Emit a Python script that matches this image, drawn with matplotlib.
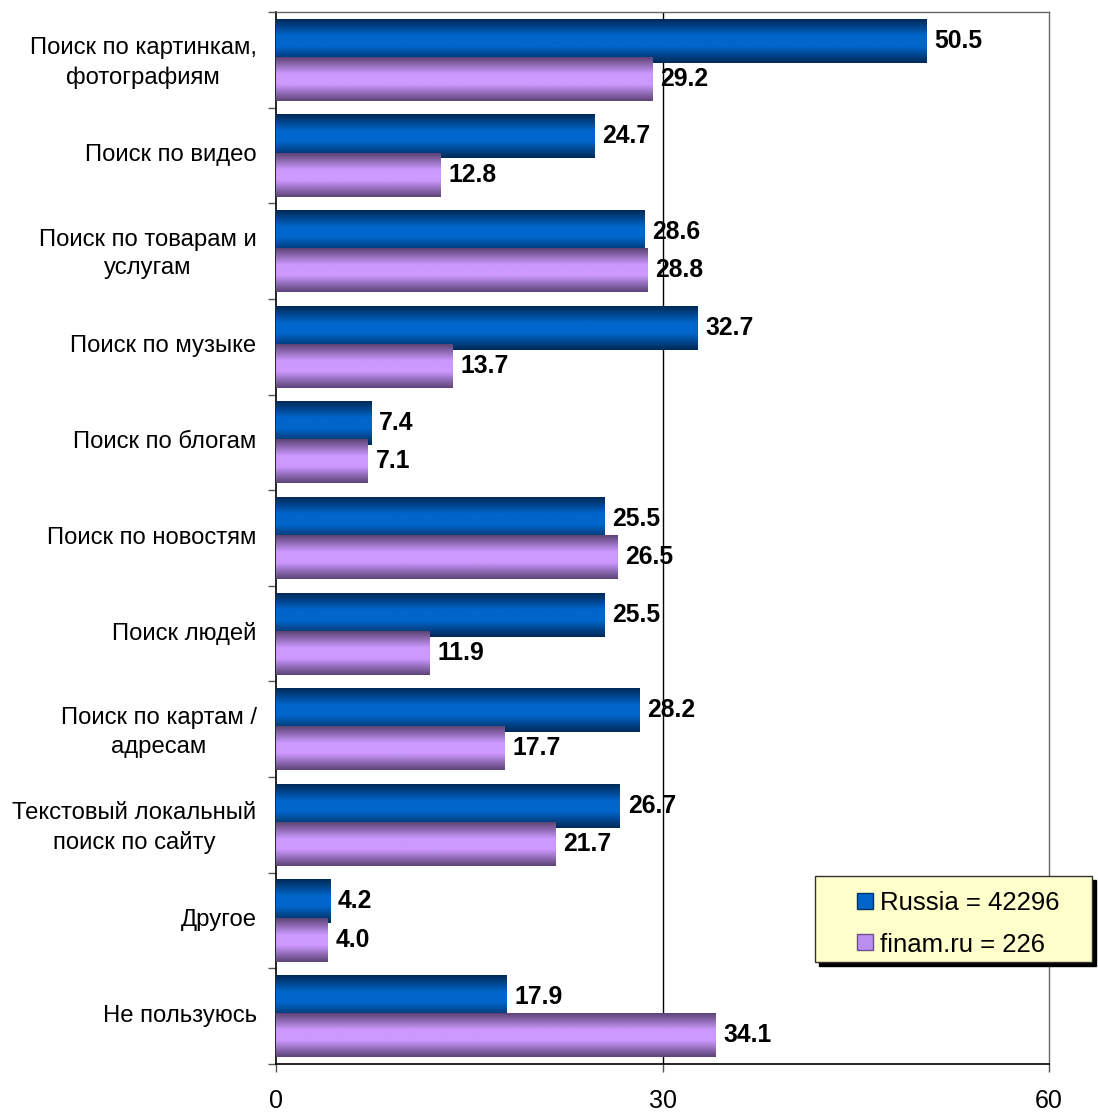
import numpy as np
import matplotlib
matplotlib.use("Agg")
import matplotlib.pyplot as plt
import matplotlib.transforms as mtransforms
from matplotlib.colors import LinearSegmentedColormap
from matplotlib.patches import Rectangle

plt.rcParams['font.family'] = ['Liberation Sans', 'DejaVu Sans']

categories = ["Поиск по картинкам,\nфотографиям", "Поиск по видео",
              "Поиск по товарам и\nуслугам", "Поиск по музыке",
              "Поиск по блогам", "Поиск по новостям", "Поиск людей",
              "Поиск по картам /\nадресам", "Текстовый локальный\nпоиск по сайту",
              "Другое", "Не пользуюсь"]
russia = [50.5, 24.7, 28.6, 32.7, 7.4, 25.5, 25.5, 28.2, 26.7, 4.2, 17.9]
finam = [29.2, 12.8, 28.8, 13.7, 7.1, 26.5, 11.9, 17.7, 21.7, 4.0, 34.1]
series_labels = ["Russia = 42296", "finam.ru = 226"]
xticks = [0, 30, 60]

W, H = 1098, 1113
fig = plt.figure(figsize=(W / 100, H / 100), dpi=100)
ax = fig.add_axes([276 / W, 1 - 1064 / H, (1049 - 276) / W, (1064 - 12) / H])

blue_cmap = LinearSegmentedColormap.from_list(
    "b", [(0, "#002a58"), (0.38, "#0066cc"), (0.62, "#0066cc"), (1, "#002a58")])
purple_cmap = LinearSegmentedColormap.from_list(
    "p", [(0, "#5e4578"), (0.38, "#cc99ff"), (0.62, "#cc99ff"), (1, "#5e4578")])
grad = np.linspace(0, 1, 64).reshape(-1, 1)

n = len(categories)
ypos = np.arange(n)
h = 0.46
off = 0.2
label_offset = mtransforms.ScaledTranslation(8 / 100, 0, fig.dpi_scale_trans)

def draw(vals, shift, cmap, z):
    for y, v in zip(ypos, vals):
        yc = y + shift
        ax.imshow(grad, cmap=cmap, aspect='auto', interpolation='bilinear',
                  extent=[0, v, yc + h / 2, yc - h / 2], zorder=z)
        ax.text(v, yc, f"{v:.1f}", transform=ax.transData + label_offset,
                va='center', ha='left', fontsize=17.8, fontweight='bold', zorder=6)

draw(russia, -off, blue_cmap, 3)
draw(finam, off, purple_cmap, 4)

ax.set_xlim(0, 60)
ax.set_ylim(n - 0.5, -0.5)

ax.axvline(30, color='black', lw=1, zorder=2)

ax.set_xticks(xticks)
ax.set_xticklabels([str(x) for x in xticks], fontsize=18)
ax.tick_params(axis='x', direction='out', length=6, width=1, pad=12, color='#555555')

ax.set_yticks(np.arange(-0.5, n, 1))
ax.set_yticklabels([])
ax.tick_params(axis='y', which='major', direction='out', length=6, width=1, color='#555555')
ax.set_yticks(ypos, minor=True)
ax.set_yticklabels(categories, minor=True, fontsize=17.2, multialignment='center',
                   linespacing=1.4)
ax.tick_params(axis='y', which='minor', length=0, pad=14)
for t in ax.get_yticklabels(minor=True):
    t.set_transform(t.get_transform() + mtransforms.ScaledTranslation(0, 3 / 100, fig.dpi_scale_trans))

for s in ['top', 'right']:
    ax.spines[s].set_color('#666666')
    ax.spines[s].set_linewidth(1)
for s in ['left', 'bottom']:
    ax.spines[s].set_color('black')
    ax.spines[s].set_linewidth(1.2)

# legend drawn in figure pixel space
def px(x, y):
    return x / W, 1 - y / H

lx0, ly0, lx1, ly1 = 815, 876, 1092, 962
sh = 4
fig.patches.append(Rectangle(px(lx0 + sh, ly1 + sh), (lx1 - lx0) / W, (ly1 - ly0) / H,
                             transform=fig.transFigure, facecolor='black',
                             edgecolor='black', zorder=9))
fig.patches.append(Rectangle(px(lx0, ly1), (lx1 - lx0) / W, (ly1 - ly0) / H,
                             transform=fig.transFigure, facecolor='#ffffcc',
                             edgecolor='#333333', lw=1, zorder=10))
legend_colors = [('#0066cc', '#003366'), ('#bb8ff0', '#6e5090')]
for i, (lab, (fc, ec)) in enumerate(zip(series_labels, legend_colors)):
    cy = 901 + i * 41
    fig.patches.append(Rectangle(px(857, cy + 8), 16 / W, 16 / H,
                                 transform=fig.transFigure, facecolor=fc,
                                 edgecolor=ec, lw=1, zorder=11))
    fig.text(*px(880, cy), lab, fontsize=18.5, va='center_baseline', ha='left', zorder=12)

fig.savefig("out.png", dpi=100)
